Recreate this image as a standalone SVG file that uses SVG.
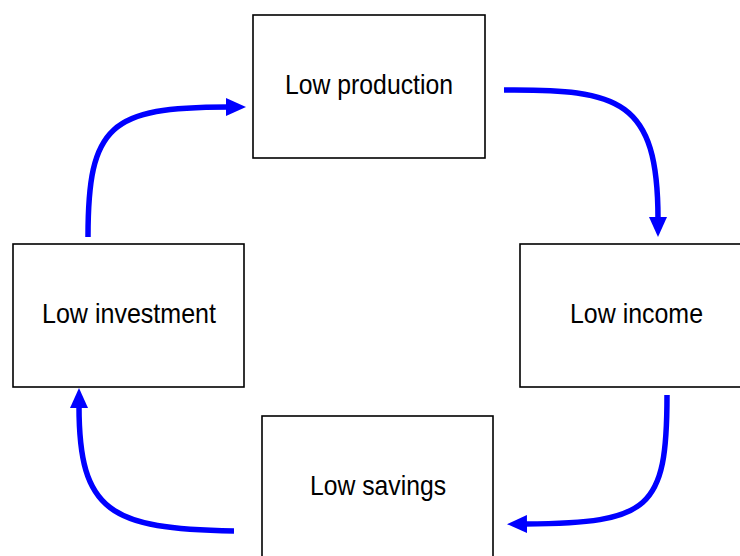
<svg xmlns="http://www.w3.org/2000/svg" width="740" height="556" viewBox="0 0 740 556">
<style>
.box{fill:#fff;stroke:#000;stroke-width:1.6}
.lbl{font-family:"Liberation Sans Narrow","Liberation Sans",Arial,sans-serif;font-size:28px;fill:#000;text-anchor:middle}
.arr{fill:none;stroke:#0000ff;stroke-width:5.5}
</style>
<defs>
<marker id="ah" markerUnits="userSpaceOnUse" markerWidth="22" markerHeight="18" refX="2" refY="9" orient="auto">
<path d="M0,0 L20,9 L0,18 Z" fill="#0000ff"/>
</marker>
</defs>
<rect width="740" height="556" fill="#fff"/>
<g id="connectors">
<path class="arr" d="M504,90 C620,89 658,100 658,219" marker-end="url(#ah)"/>
<path class="arr" d="M667,395 C667,510 650,523 525,524" marker-end="url(#ah)"/>
<path class="arr" d="M234,531 C110,529 79,512 79,406" marker-end="url(#ah)"/>
<path class="arr" d="M88,237 C88,125 110,107 228,107" marker-end="url(#ah)"/>
</g>
<g id="low-production">
<rect class="box" x="253" y="15" width="232" height="143"/>
<text class="lbl" x="369" y="94" textLength="168" lengthAdjust="spacingAndGlyphs">Low production</text>
</g>
<g id="low-income">
<rect class="box" x="520" y="244" width="232" height="143"/>
<text class="lbl" x="636.5" y="323" textLength="133" lengthAdjust="spacingAndGlyphs">Low income</text>
</g>
<g id="low-savings">
<rect class="box" x="262" y="416" width="231" height="143"/>
<text class="lbl" x="378" y="495" textLength="136" lengthAdjust="spacingAndGlyphs">Low savings</text>
</g>
<g id="low-investment">
<rect class="box" x="13" y="244" width="231" height="143"/>
<text class="lbl" x="129" y="323" textLength="174" lengthAdjust="spacingAndGlyphs">Low investment</text>
</g>
</svg>
